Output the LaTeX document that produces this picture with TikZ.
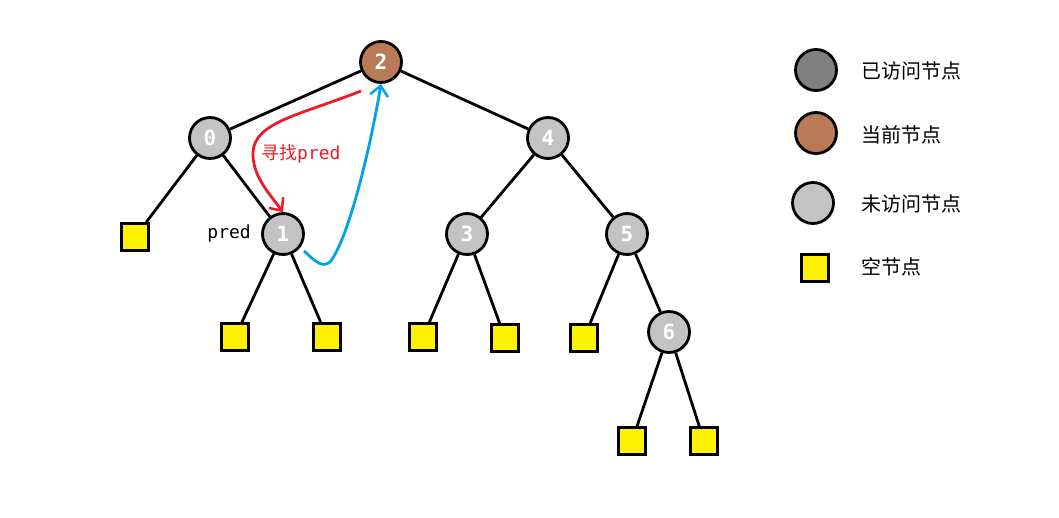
\documentclass[tikz,border=0pt]{standalone}
\usepackage{fontspec}
\newfontfamily\cjk{Noto Sans CJK SC}
\newfontfamily\mono{DejaVu Sans Mono}
\usetikzlibrary{arrows.meta}
\definecolor{visited}{RGB}{128,128,128}
\definecolor{current}{RGB}{185,122,87}
\definecolor{unvisited}{RGB}{195,195,195}
\definecolor{nullc}{RGB}{255,242,0}
\definecolor{redarr}{RGB}{237,28,36}
\definecolor{bluearr}{RGB}{0,162,232}
\tikzset{
  tnode/.style={circle, draw=black, line width=2.8pt, minimum size=41pt, inner sep=0pt, font=\mono\bfseries\fontsize{21}{21}\selectfont, text=white},
  vnode/.style={tnode, fill=visited},
  cnode/.style={tnode, fill=current},
  unode/.style={tnode, fill=unvisited},
  nnode/.style={rectangle, draw=black, line width=2.8pt, minimum size=27pt, inner sep=0pt, fill=nullc},
  edge/.style={line width=2.8pt, black},
  legtext/.style={anchor=west, font=\cjk\fontsize{20}{20}\selectfont},
  arr/.style={line width=2.8pt, -{Straight Barb[length=10pt,width=18pt,line width=2.5pt]}}
}
\begin{document}
\begin{tikzpicture}[x=1pt,y=-1pt]
\useasboundingbox[fill=white] (0,0) rectangle (1059,517);
% tree nodes
\node[cnode] (n2) at (381,62) {2};
\node[unode] (n0) at (210,138) {0};
\node[unode] (n4) at (548,138) {4};
\node[unode] (n1) at (283,234) {1};
\node[unode] (n3) at (467,234) {3};
\node[unode] (n5) at (627,234) {5};
\node[unode] (n6) at (669,332) {6};
% null nodes
\node[nnode] (s0) at (135,237) {};
\node[nnode] (s1a) at (235,337) {};
\node[nnode] (s1b) at (327,337) {};
\node[nnode] (s3a) at (423,337) {};
\node[nnode] (s3b) at (505,338) {};
\node[nnode] (s5a) at (584,338) {};
\node[nnode] (s6a) at (632,441) {};
\node[nnode] (s6b) at (704,441) {};
% edges
\draw[edge] (n2) -- (n0);
\draw[edge] (n2) -- (n4);
\draw[edge] (n0) -- (s0);
\draw[edge] (n0) -- (n1);
\draw[edge] (n1) -- (s1a);
\draw[edge] (n1) -- (s1b);
\draw[edge] (n4) -- (n3);
\draw[edge] (n4) -- (n5);
\draw[edge] (n3) -- (s3a);
\draw[edge] (n3) -- (s3b);
\draw[edge] (n5) -- (s5a);
\draw[edge] (n5) -- (n6);
\draw[edge] (n6) -- (s6a);
\draw[edge] (n6) -- (s6b);
% labels
\node[font=\mono\fontsize{18}{18}\selectfont, anchor=east, inner sep=0pt] (lpred) at (251,234) {pred};
\node[text=redarr, font=\cjk\fontsize{18}{18}\selectfont, anchor=west, inner sep=0pt] (lfind) at (261,154) {寻找\mono pred};
% arrows
\coordinate (rstart) at (361,91);
\draw[arr, redarr] (rstart) .. controls (300,115) and (255,122) .. (253,152) .. controls (252,175) and (268,192) .. (n1.north);
\coordinate (bstart) at (304,251);
\draw[arr, bluearr] (bstart) .. controls (316,262) and (322,268) .. (330,262) .. controls (348,240) and (370,150) .. (n2.south);
% legend
\node[vnode] (lg1) at (816,70) {};
\node[cnode] (lg2) at (816,133) {};
\node[unode] (lg3) at (813,203) {};
\node[nnode] (lg4) at (815,268) {};
\node[legtext] (lt1) at (858,71) {已访问节点};
\node[legtext] (lt2) at (858,135) {当前节点};
\node[legtext] (lt3) at (858,204) {未访问节点};
\node[legtext] (lt4) at (858,267) {空节点};
\end{tikzpicture}
\end{document}
